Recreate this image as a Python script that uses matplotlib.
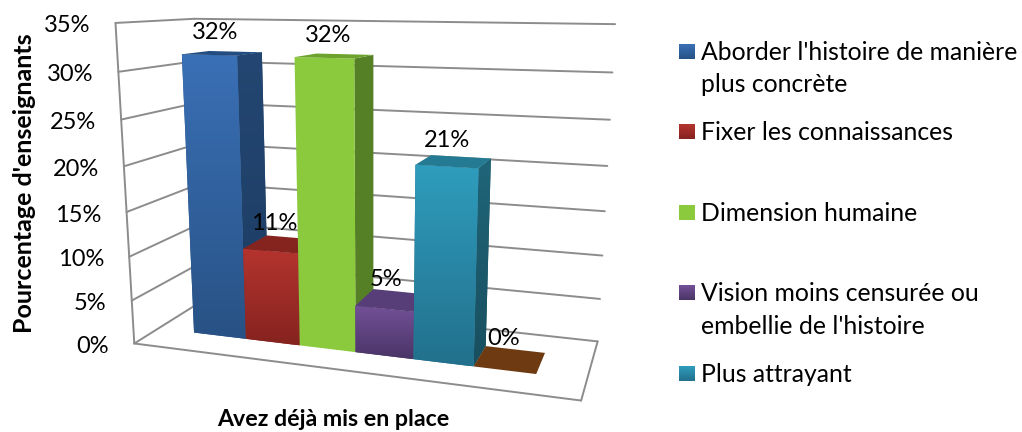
import numpy as np
import matplotlib
matplotlib.use('Agg')
import matplotlib.pyplot as plt
from matplotlib.colors import LinearSegmentedColormap
from matplotlib.patches import Polygon

plt.rcParams['font.family'] = ['Lato', 'DejaVu Sans']

# data
categories = ["Aborder l'histoire de manière\nplus concrète", 'Fixer les connaissances',
              'Dimension humaine', 'Vision moins censurée ou\nembellie de l\'histoire',
              'Plus attrayant', '']
values = [31.6, 10.53, 31.6, 5.3, 21.05, 0]
ticks = [0, 5, 10, 15, 20, 25, 30, 35]
y_title = "Pourcentage d'enseignants"
x_title = 'Avez déjà mis en place'

# colours per bar: front top, front bottom, side top, side bottom, cap
FRONT_TOP = ['#3a70b6', '#b5342f', '#8aca3c', '#735098', '#2f9dbd', '#6e3a12']
FRONT_BOT = ['#285285', '#85231f', '#8aca3c', '#4a3566', '#22708c', '#6e3a12']
SIDE_TOP = ['#234672', '#85231f', '#558026', '#4a3566', '#1f6579', '#6e3a12']
SIDE_BOT = ['#1c3d63', '#6a1c18', '#558026', '#3a2950', '#194f5f', '#6e3a12']
CAP = ['#234c80', '#85241f', '#6da32c', '#573e78', '#237a92', '#6e3a12']
GRID = '#8c8c8c'

# camera: (u, depth, value) -> pixel, fitted on the box corners of the picture
WORLD = np.array([[0, 0, 0], [0, 0, 35], [0, 1, 0], [0, 1, 35],
                  [1, 1, 0], [1, 1, 35], [1, 0, 0]], float)
PIXEL = np.array([[134, 343], [115, 24], [206, 299], [195, 18],
                  [597, 342], [615, 24], [582, 400]], float)

rows, rhs = [], []
for (a, b, c), (px, py) in zip(WORLD, PIXEL):
    rows.append([a, b, c, 1, 0, 0, 0, 0, -px * a, -px * b, -px * c])
    rhs.append(px)
    rows.append([0, 0, 0, 0, a, b, c, 1, -py * a, -py * b, -py * c])
    rhs.append(py)
sol = np.linalg.lstsq(np.array(rows), np.array(rhs), rcond=None)[0]
P = np.append(sol, 1).reshape(3, 4)


def proj(u, d, w):
    x, y, z = P @ np.array([u, d, w, 1.0])
    return x / z, y / z


BAR_START, BAR_W = 0.094, 0.1336
D0, D1 = 0.31, 0.68

fig = plt.figure(figsize=(10.22, 4.32), dpi=100)
ax = fig.add_axes([0, 0, 1, 1])
ax.set_xlim(0, 1022)
ax.set_ylim(432, 0)
ax.axis('off')


def line(a, b, z=1):
    ax.plot([a[0], b[0]], [a[1], b[1]], color=GRID, lw=1.4, zorder=z, solid_capstyle='round')


def face(pts, top, bottom, z):
    pts = np.array(pts)
    poly = Polygon(pts, closed=True, fc=bottom, ec='none', zorder=z)
    ax.add_patch(poly)
    if top != bottom:
        cmap = LinearSegmentedColormap.from_list('f', [top, bottom])
        im = ax.imshow(np.linspace(0, 1, 256).reshape(-1, 1), cmap=cmap, aspect='auto',
                       extent=[pts[:, 0].min(), pts[:, 0].max(), pts[:, 1].max(), pts[:, 1].min()],
                       zorder=z + 0.1)
        im.set_clip_path(poly)


# walls and floor
for t in ticks:
    line(proj(0, 0, t), proj(0, 1, t))
    line(proj(0, 1, t), proj(1, 1, t))
    x, y = proj(0, 0, t)
    ax.text(x - 25, y + 3, f'{t}%', ha='right', va='center', fontsize=17, color='black')
line(proj(0, 0, 0), proj(0, 0, 35))
line(proj(0, 0, 0), proj(1, 0, 0))
line(proj(1, 0, 0), proj(1, 1, 0))

# bars, left to right so every bar hides the side of the one before
z = 2
for i, v in enumerate(values):
    u0, u1 = BAR_START + i * BAR_W, BAR_START + (i + 1) * BAR_W
    fb0, fb1 = proj(u0, D0, 0), proj(u1, D0, 0)
    ft0, ft1 = proj(u0, D0, v), proj(u1, D0, v)
    bt0, bt1 = proj(u0, D1, v), proj(u1, D1, v)
    bb1 = proj(u1, D1, 0)
    if v > 0:
        face([ft1, bt1, bb1, fb1], SIDE_TOP[i], SIDE_BOT[i], z)
        face([ft0, ft1, fb1, fb0], FRONT_TOP[i], FRONT_BOT[i], z + 1)
    face([ft0, ft1, bt1, bt0], CAP[i], CAP[i], z + 2)
    z += 3
    cx = (ft0[0] + ft1[0] + bt0[0] + bt1[0]) / 4
    cy = (ft0[1] + ft1[1] + bt0[1] + bt1[1]) / 4
    ax.text(cx - 7, cy - 21, f'{v:.0f}%', ha='center', va='center', fontsize=17,
            color='black', zorder=50)

# legend
leg_y = [59, 139, 220, 300, 381]
for i, y in enumerate(leg_y):
    face([(679, y - 15), (695, y - 15), (695, y), (679, y)], FRONT_TOP[i], FRONT_BOT[i], 60)
    for k, part in enumerate(categories[i].split('\n')):
        ax.text(701, y + 1 + k * 32.5, part, ha='left', va='baseline', fontsize=17.8, color='black')

ax.text(25, 183, y_title, rotation=90, ha='center', va='center', fontsize=18, fontweight='bold')
ax.text(333, 420, x_title, ha='center', va='center', fontsize=16.7, fontweight='bold')

ax.set_xlim(0, 1022)
ax.set_ylim(432, 0)
fig.savefig('out.png', dpi=100)
